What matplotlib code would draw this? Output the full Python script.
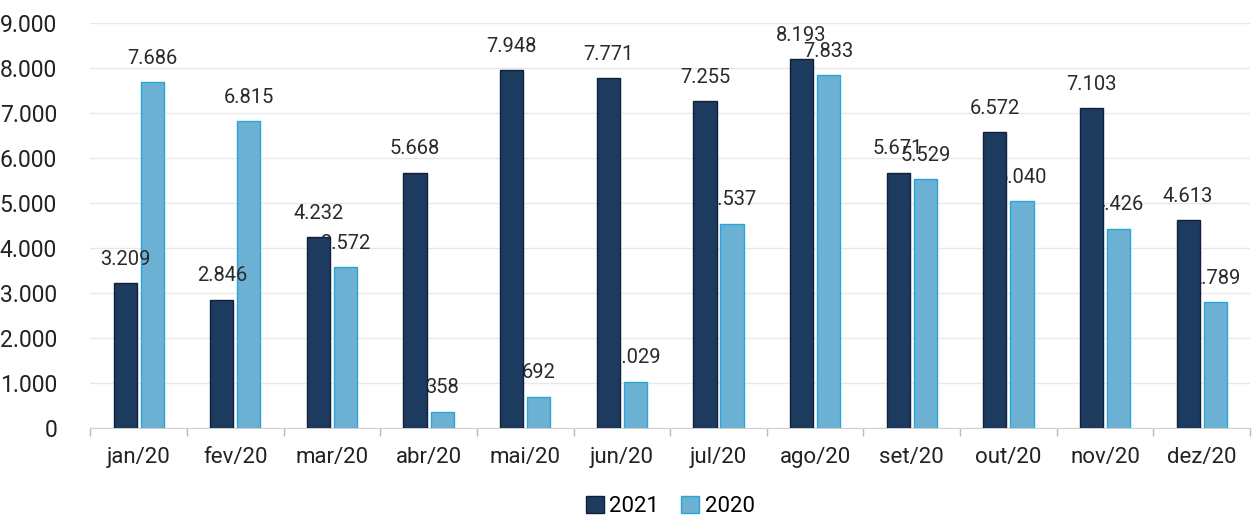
import numpy as np
import matplotlib.pyplot as plt
from matplotlib.ticker import FuncFormatter, FixedLocator

months = ["jan/20", "fev/20", "mar/20", "abr/20", "mai/20", "jun/20",
          "jul/20", "ago/20", "set/20", "out/20", "nov/20", "dez/20"]
vals_2021 = [3209, 2846, 4232, 5668, 7948, 7771, 7255, 8193, 5671, 6572, 7103, 4613]
vals_2020 = [7686, 6815, 3572, 358, 692, 1029, 4537, 7833, 5529, 5040, 4426, 2789]


def br(v):
    # brazilian thousands separator
    return f"{v:,.0f}".replace(",", ".")


plt.rcParams["font.family"] = ["Roboto", "DejaVu Sans"]

fig = plt.figure(figsize=(12.55, 5.18), dpi=100)
ax = fig.add_axes([0.072, 0.174, 0.924, 0.782])

x = np.arange(len(months))
w = 0.24
off = 0.14
dark = "#1d3b5e"
light = "#6cb1d3"

# draw order copies the source: 2020 labels sit under the 2021 bars
b2 = ax.bar(x + off, vals_2020, w, color=light, edgecolor="#2aa6d6",
            linewidth=1, label="2020", zorder=1)
b1 = ax.bar(x - off, vals_2021, w, color=dark, edgecolor="#0f1f3d",
            linewidth=1, label="2021", zorder=4)

for bars, vals, z in ((b1, vals_2021, 2), (b2, vals_2020, 3)):
    for r, v in zip(bars, vals):
        ax.text(r.get_x() + r.get_width() / 2, v + 320, br(v),
                ha="center", va="bottom", fontsize=14.5, color="#2a2a2a", zorder=z)

ax.set_xlim(-0.5, len(months) - 0.5)
ax.set_ylim(0, 9000)
ax.set_yticks(np.arange(0, 9001, 1000))
ax.yaxis.set_major_formatter(FuncFormatter(lambda v, p: br(v)))
ax.set_xticks(x)
ax.set_xticklabels(months)
ax.xaxis.set_minor_locator(FixedLocator(np.arange(-0.5, len(months), 1.0)))
ax.tick_params(axis="x", which="major", length=0, labelsize=16, pad=14, colors="#222222")
ax.tick_params(axis="x", which="minor", length=6, color="#bbbbbb", width=1)
ax.tick_params(axis="y", length=0, labelsize=16.5, pad=24, colors="#222222")

ax.grid(axis="y", color="#e8e8e8", linewidth=1, zorder=0)
ax.set_axisbelow(True)
for s in ("top", "right", "left"):
    ax.spines[s].set_visible(False)
ax.spines["bottom"].set_color("#d0d0d0")

h, l = ax.get_legend_handles_labels()
ax.legend(h[::-1], l[::-1], loc="center", bbox_to_anchor=(0.5, -0.195), ncol=2,
          frameon=False, fontsize=16, handlelength=0.8, handleheight=0.8,
          handletextpad=0.25, columnspacing=1.0, borderpad=0.1)

fig.savefig("out.png", dpi=100)
